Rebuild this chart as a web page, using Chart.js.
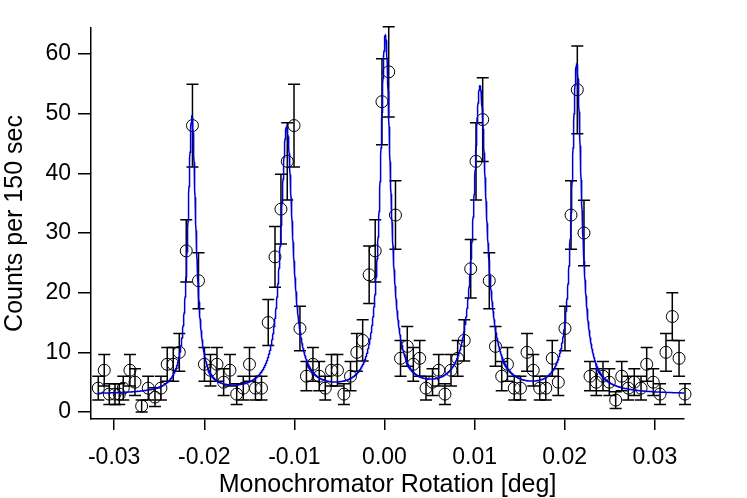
<!DOCTYPE html>
<html>
<head>
<meta charset="utf-8">
<script src="https://cdn.jsdelivr.net/npm/chart.js@4.4.1/dist/chart.umd.min.js"></script>
<style>
  html, body { margin: 0; padding: 0; background: #fff; }
  #wrap { width: 747px; height: 498px; }
</style>
</head>
<body>
<div id="wrap"><canvas id="rockingChart" width="747" height="498"></canvas></div>
<script>
// measured points (monochromator rotation in deg, counts per 150 sec)
const rotation = [
  -0.03176, -0.03110, -0.03054, -0.02991, -0.02943, -0.02899, -0.02825, -0.02769, -0.02695, -0.02622,
  -0.02547, -0.02481, -0.02411, -0.02344, -0.02277, -0.02200, -0.02131, -0.02064, -0.01998, -0.01931,
  -0.01859, -0.01785, -0.01715, -0.01640, -0.01567, -0.01498, -0.01432, -0.01365, -0.01290, -0.01215,
  -0.01149, -0.01079, -0.01004, -0.00938, -0.00866, -0.00794, -0.00724, -0.00657, -0.00588, -0.00522,
  -0.00450, -0.00377, -0.00307, -0.00242, -0.00170, -0.00103, -0.00028, 0.00047, 0.00122, 0.00178,
  0.00253, 0.00320, 0.00391, 0.00461, 0.00533, 0.00602, 0.00671, 0.00738, 0.00812, 0.00885,
  0.00957, 0.01016, 0.01090, 0.01163, 0.01232, 0.01301, 0.01365, 0.01440, 0.01509, 0.01582,
  0.01651, 0.01723, 0.01790, 0.01862, 0.01929, 0.02003, 0.02070, 0.02140, 0.02214, 0.02281,
  0.02351, 0.02425, 0.02495, 0.02566, 0.02633, 0.02706, 0.02772, 0.02847, 0.02910, 0.02983,
  0.03058, 0.03124, 0.03194, 0.03269, 0.03335
];
const counts = [
  4, 7, 3, 3, 3, 4, 7, 5, 1, 4,
  2.5, 4, 8, 8, 10, 27, 48, 22, 8, 7,
  8, 5, 7, 3, 4, 8, 4, 4, 15, 26,
  34, 42, 48, 14, 6, 8, 6, 4, 7, 7,
  3, 6, 10, 12, 23, 27, 52, 57, 33, 9,
  11, 8, 9, 4, 5, 7, 3, 7, 9, 12,
  24, 42, 49, 22, 11, 6, 8, 4, 4, 10,
  7, 4, 4, 9, 5, 14, 33, 54, 30, 6,
  5, 6, 5, 2, 6, 4, 5, 4, 8, 5,
  3, 10, 16, 9, 3
];
const errors = [
  2, 2.65, 1.73, 1.73, 1.73, 2, 2.65, 2.24, 1, 2,
  1.58, 2, 2.83, 2.83, 3.16, 5.2, 6.93, 4.69, 2.83, 2.65,
  2.83, 2.24, 2.65, 1.73, 2, 2.83, 2, 2, 3.87, 5.1,
  5.83, 6.48, 6.93, 3.74, 2.45, 2.83, 2.45, 2, 2.65, 2.65,
  1.73, 2.45, 3.16, 3.46, 4.8, 5.2, 7.21, 7.55, 5.74, 3,
  3.32, 2.83, 3, 2, 2.24, 2.65, 1.73, 2.65, 3, 3.46,
  4.9, 6.48, 7, 4.69, 3.32, 2.45, 2.83, 2, 2, 3.16,
  2.65, 2, 2, 3, 2.24, 3.74, 5.74, 7.35, 5.48, 2.45,
  2.24, 2.45, 2.24, 1.41, 2.45, 2, 2.24, 2, 2.83, 2.24,
  1.73, 3.16, 4, 3, 1.73
];

// fitted lorentzian peaks + flat background
const peakCenters = [-0.02137, -0.01085, 0.0001, 0.0106, 0.02133];
const peakHeights = [46.2, 44.6, 59.6, 51.2, 55.1];
const peakHwhm = [0.00055, 0.0008, 0.0007, 0.00087, 0.00067];
const background = 2.9;

const xTicks = [-0.03, -0.02, -0.01, 0.0, 0.01, 0.02, 0.03];
const yTicks = [0, 10, 20, 30, 40, 50, 60];

function fitAt(x) {
  let y = background;
  for (let i = 0; i < peakCenters.length; i++) {
    const d = x - peakCenters[i];
    const w = peakHwhm[i];
    y += peakHeights[i] * w * w / (d * d + w * w);
  }
  return y;
}

const points = rotation.map((x, i) => ({ x: x, y: counts[i] }));
const fitLine = [];
const x0 = rotation[0], x1 = rotation[rotation.length - 1];
const steps = 3000;
for (let i = 0; i <= steps; i++) {
  const x = x0 + (x1 - x0) * i / steps;
  fitLine.push({ x: x, y: fitAt(x) });
}

// error bars drawn with the chart's own scales
const errorBars = {
  id: 'errorBars',
  beforeDatasetsDraw(chart) {
    const ctx = chart.ctx;
    const xs = chart.scales.x, ys = chart.scales.y;
    ctx.save();
    ctx.strokeStyle = '#000';
    ctx.lineWidth = 1.5;
    rotation.forEach((r, i) => {
      const px = xs.getPixelForValue(r);
      const top = ys.getPixelForValue(counts[i] + errors[i]);
      const bot = ys.getPixelForValue(counts[i] - errors[i]);
      ctx.beginPath();
      ctx.moveTo(px, top); ctx.lineTo(px, bot);
      ctx.moveTo(px - 6, top); ctx.lineTo(px + 6, top);
      ctx.moveTo(px - 6, bot); ctx.lineTo(px + 6, bot);
      ctx.stroke();
    });
    ctx.restore();
  }
};

Chart.defaults.font.family = '"Liberation Sans", Arial, Helvetica, sans-serif';
Chart.defaults.color = '#000';

new Chart(document.getElementById('rockingChart'), {
  type: 'scatter',
  data: {
    datasets: [
      {
        label: 'fit',
        type: 'line',
        data: fitLine,
        borderColor: 'rgb(0,0,210)',
        borderWidth: 1.5,
        pointRadius: 0,
        fill: false,
        tension: 0,
        clip: false,
        order: 0
      },
      {
        label: 'data',
        data: points,
        pointStyle: 'circle',
        pointRadius: 6,
        backgroundColor: 'rgba(0,0,0,0)',
        borderColor: '#000',
        borderWidth: 1,
        clip: false,
        order: 1
      }
    ]
  },
  options: {
    responsive: false,
    animation: false,
    devicePixelRatio: 1,
    layout: { padding: { left: 0, top: 28, right: 63, bottom: 0 } },
    plugins: { legend: { display: false }, tooltip: { enabled: false } },
    scales: {
      x: {
        type: 'linear',
        min: -0.03257,
        max: 0.03324,
        afterBuildTicks: s => { s.ticks = xTicks.map(v => ({ value: v })); },
        afterFit: s => { s.height = 79; },
        ticks: {
          font: { size: 23 },
          padding: 14,
          maxRotation: 0,
          callback: v => v.toFixed(2)
        },
        grid: { drawOnChartArea: false, drawTicks: true, tickLength: 11, color: '#000', lineWidth: 1.5 },
        border: { display: true, color: '#000', width: 1.5 },
        title: {
          display: true,
          text: 'Monochromator Rotation [deg]',
          font: { size: 25 },
          padding: { top: 0, bottom: -2 }
        }
      },
      y: {
        min: -1.17,
        max: 64.35,
        afterBuildTicks: s => { s.ticks = yTicks.map(v => ({ value: v })); },
        afterFit: s => { s.width = 91; },
        ticks: {
          font: { size: 23 },
          padding: 7,
          callback: v => String(v)
        },
        grid: { drawOnChartArea: false, drawTicks: true, tickLength: 13, color: '#000', lineWidth: 1.5 },
        border: { display: true, color: '#000', width: 1.5 },
        title: {
          display: true,
          text: 'Counts per 150 sec',
          font: { size: 25 },
          padding: { top: 0, bottom: 0 }
        }
      }
    }
  },
  plugins: [errorBars]
});
</script>
</body>
</html>
